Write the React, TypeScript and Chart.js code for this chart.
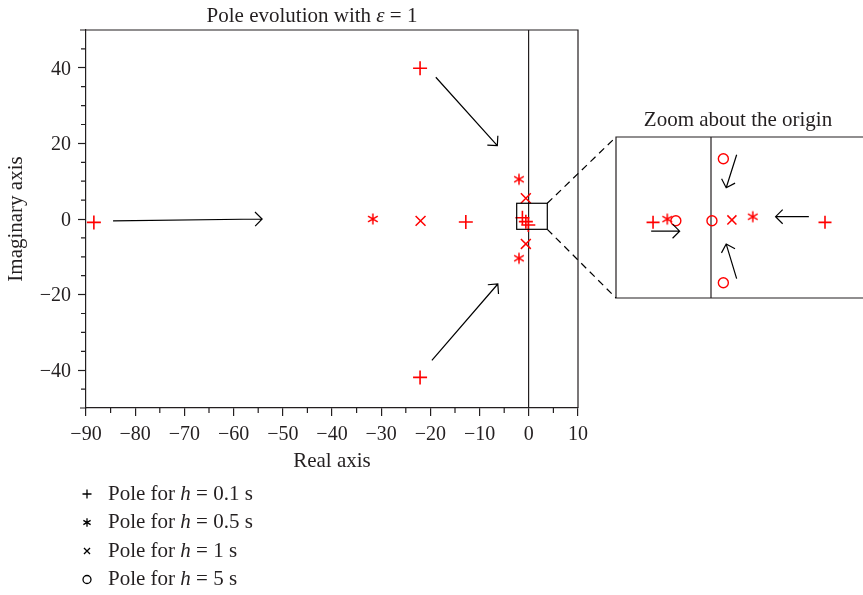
import React, { useEffect, useRef } from 'react';
import { Chart, registerables } from 'chart.js';

Chart.register(...registerables);

const FONT = "'Liberation Serif', 'Times New Roman', serif";
const RED = '#ff0000';
const INK = '#231f20';

// ---- main plot data (real, imaginary) ----
const h01X = [-88.4, -12.8, -22.1, -22.1, -1.3, -0.6, -0.1];
const h01Y = [-0.9, -0.8, 39.9, -41.9, 0.35, -0.7, -1.6];
const h05X = [-31.7, -2.0, -2.0];
const h05Y = [0, 10.5, -10.4];
const h1X = [-22.0, -0.6, -0.6];
const h1Y = [-0.5, 5.5, -6.6];

// arrows in main plot (from -> to)
const arrowFromX = [-84.5, -18.9, -19.7];
const arrowFromY = [-0.5, 37.5, -37.4];
const arrowToX = [-54.2, -6.4, -6.3];
const arrowToY = [0.0, 19.4, -17.2];

// zoom box around origin
const zoomBoxX = [-2.46, 3.76];
const zoomBoxY = [-2.73, 4.16];

// ticks
const xTicks = [-90, -80, -70, -60, -50, -40, -30, -20, -10, 0, 10];
const yTicks = [-40, -20, 0, 20, 40];
const xMinor = [-85, -75, -65, -55, -45, -35, -25, -15, -5, 5];
const yMinor = [-50, -45, -35, -30, -25, -15, -10, -5, 5, 10, 15, 25, 30, 35, 45, 50];

// ---- inset (zoom about the origin) data ----
const inH01X = [-0.61, 1.2];
const inH01Y = [-0.06, -0.06];
const inH05X = [-0.46, 0.44];
const inH05Y = [-0.02, 0.01];
const inH1X = [0.22];
const inH1Y = [-0.03];
const inH5X = [-0.37, 0.01, 0.13, 0.13];
const inH5Y = [-0.04, -0.04, 0.73, -0.81];

const inArrowFromX = [0.27, 0.27, 1.03, -0.63];
const inArrowFromY = [0.78, -0.76, 0.01, -0.17];
const inArrowToX = [0.16, 0.16, 0.68, -0.33];
const inArrowToY = [0.37, -0.33, 0.01, -0.17];

// legend
const legendH = ['0.1', '0.5', '1', '5'];
const legendStyles = ['cross', 'star', 'crossRot', 'circle'];

function fmt(v: number) {
  return v < 0 ? '\u2212' + Math.abs(v) : String(v);
}

function pts(xs: number[], ys: number[]) {
  return xs.map((x, i) => ({ x, y: ys[i] }));
}

function makeAsterisk(r: number, color: string, lw: number) {
  const s = Math.ceil(2 * r + 4);
  const c = document.createElement('canvas');
  c.width = s;
  c.height = s;
  const g = c.getContext('2d')!;
  g.strokeStyle = color;
  g.lineWidth = lw;
  const cx = s / 2, cy = s / 2;
  g.beginPath();
  [90, 30, 150].forEach((deg) => {
    const a = (deg * Math.PI) / 180;
    g.moveTo(cx - r * Math.cos(a), cy - r * Math.sin(a));
    g.lineTo(cx + r * Math.cos(a), cy + r * Math.sin(a));
  });
  g.stroke();
  return c;
}

function drawArrow(ctx: CanvasRenderingContext2D, x1: number, y1: number, x2: number, y2: number, head = 10) {
  const a = Math.atan2(y2 - y1, x2 - x1);
  ctx.beginPath();
  ctx.moveTo(x1, y1);
  ctx.lineTo(x2, y2);
  ctx.moveTo(x2 - head * Math.cos(a - Math.PI / 4), y2 - head * Math.sin(a - Math.PI / 4));
  ctx.lineTo(x2, y2);
  ctx.lineTo(x2 - head * Math.cos(a + Math.PI / 4), y2 - head * Math.sin(a + Math.PI / 4));
  ctx.stroke();
}

function drawRich(ctx: CanvasRenderingContext2D, parts: [string, boolean][], x: number, y: number, size: number, align: 'left' | 'center') {
  const fonts = parts.map(([, it]) => `${it ? 'italic ' : ''}${size}px ${FONT}`);
  const widths = parts.map(([t], i) => {
    ctx.font = fonts[i];
    return ctx.measureText(t).width;
  });
  const total = widths.reduce((a, b) => a + b, 0);
  let cx = align === 'center' ? x - total / 2 : x;
  ctx.textBaseline = 'middle';
  ctx.textAlign = 'left';
  ctx.fillStyle = INK;
  parts.forEach(([t], i) => {
    ctx.font = fonts[i];
    ctx.fillText(t, cx, y);
    cx += widths[i];
  });
}

function drawMarker(ctx: CanvasRenderingContext2D, style: string, x: number, y: number, r: number) {
  ctx.beginPath();
  if (style === 'cross') {
    ctx.moveTo(x - r, y); ctx.lineTo(x + r, y);
    ctx.moveTo(x, y - r); ctx.lineTo(x, y + r);
  } else if (style === 'crossRot') {
    const d = r * 0.72;
    ctx.moveTo(x - d, y - d); ctx.lineTo(x + d, y + d);
    ctx.moveTo(x + d, y - d); ctx.lineTo(x - d, y + d);
  } else if (style === 'star') {
    [90, 30, 150].forEach((deg) => {
      const a = (deg * Math.PI) / 180;
      ctx.moveTo(x - r * Math.cos(a), y - r * Math.sin(a));
      ctx.lineTo(x + r * Math.cos(a), y + r * Math.sin(a));
    });
  } else {
    ctx.arc(x, y, r, 0, Math.PI * 2);
  }
  ctx.stroke();
}

const mainDecor = {
  id: 'mainDecor',
  beforeDatasetsDraw(chart: any) {
    const { ctx, chartArea: a, scales } = chart;
    const x = scales.x, y = scales.y;
    ctx.save();
    ctx.strokeStyle = INK;
    ctx.lineWidth = 1.2;
    ctx.beginPath();
    ctx.moveTo(a.left, a.top);
    ctx.lineTo(a.right, a.top);
    ctx.lineTo(a.right, a.bottom);
    xMinor.forEach((v) => {
      const px = x.getPixelForValue(v);
      ctx.moveTo(px, a.bottom);
      ctx.lineTo(px, a.bottom + 5);
    });
    yMinor.forEach((v) => {
      const py = y.getPixelForValue(v);
      const len = Math.abs(v) === 50 ? 6 : 5;
      ctx.moveTo(a.left - len, py);
      ctx.lineTo(a.left, py);
    });
    ctx.stroke();
    ctx.restore();
  },
  afterDatasetsDraw(chart: any) {
    const { ctx, scales } = chart;
    const x = scales.x, y = scales.y;
    ctx.save();
    ctx.strokeStyle = '#000';
    ctx.lineWidth = 1.2;
    const bx1 = x.getPixelForValue(zoomBoxX[0]);
    const bx2 = x.getPixelForValue(zoomBoxX[1]);
    const by1 = y.getPixelForValue(zoomBoxY[1]);
    const by2 = y.getPixelForValue(zoomBoxY[0]);
    ctx.strokeRect(bx1, by1, bx2 - bx1, by2 - by1);
    arrowFromX.forEach((_, i) => {
      drawArrow(
        ctx,
        x.getPixelForValue(arrowFromX[i]), y.getPixelForValue(arrowFromY[i]),
        x.getPixelForValue(arrowToX[i]), y.getPixelForValue(arrowToY[i])
      );
    });
    ctx.restore();
  },
  afterDraw(chart: any) {
    const { ctx, chartArea: a } = chart;
    ctx.save();
    drawRich(ctx, [['Pole evolution with ', false], ['\u03b5', true], [' = 1', false]], (a.left + a.right) / 2 - 20, a.top - 14, 21, 'center');
    legendH.forEach((h, i) => {
      const ly = a.bottom + 86 + i * 28.5;
      ctx.strokeStyle = '#000';
      ctx.lineWidth = 1.3;
      const st = legendStyles[i];
      drawMarker(ctx, st, a.left + 1, ly, st === 'circle' ? 4 : st === 'cross' ? 4.5 : 4.2);
      drawRich(ctx, [['Pole for ', false], ['h', true], [` = ${h} s`, false]], a.left + 22, ly, 21, 'left');
    });
    ctx.restore();
  },
};

function makeInsetDecor(main: any) {
  return {
    id: 'insetDecor',
    beforeDatasetsDraw(chart: any) {
      const { ctx, chartArea: a, scales } = chart;
      const w = chart.width;
      ctx.save();
      ctx.strokeStyle = INK;
      ctx.lineWidth = 1.2;
      ctx.beginPath();
      ctx.moveTo(w + 2, a.top);
      ctx.lineTo(a.left, a.top);
      ctx.lineTo(a.left, a.bottom);
      ctx.lineTo(w + 2, a.bottom);
      const zx = scales.x.getPixelForValue(0);
      ctx.moveTo(zx, a.top);
      ctx.lineTo(zx, a.bottom);
      ctx.stroke();
      ctx.restore();
    },
    afterDatasetsDraw(chart: any) {
      const { ctx, scales } = chart;
      ctx.save();
      ctx.strokeStyle = '#000';
      ctx.lineWidth = 1.2;
      inArrowFromX.forEach((_, i) => {
        drawArrow(
          ctx,
          scales.x.getPixelForValue(inArrowFromX[i]), scales.y.getPixelForValue(inArrowFromY[i]),
          scales.x.getPixelForValue(inArrowToX[i]), scales.y.getPixelForValue(inArrowToY[i])
        );
      });
      ctx.restore();
    },
    afterDraw(chart: any) {
      const { ctx, chartArea: a } = chart;
      ctx.save();
      drawRich(ctx, [['Zoom about the origin', false]], a.left + 122, a.top - 17, 21, 'center');
      const mx = main.scales.x, my = main.scales.y;
      const bx = mx.getPixelForValue(zoomBoxX[1]);
      const byTop = my.getPixelForValue(zoomBoxY[1]);
      const byBot = my.getPixelForValue(zoomBoxY[0]);
      ctx.strokeStyle = '#000';
      ctx.lineWidth = 1.2;
      ctx.setLineDash([7, 5]);
      ctx.beginPath();
      ctx.moveTo(bx, byTop);
      ctx.lineTo(a.left, a.top);
      ctx.moveTo(bx, byBot);
      ctx.lineTo(a.left, a.bottom);
      ctx.stroke();
      ctx.restore();
    },
  };
}

export default function App() {
  const mainRef = useRef<HTMLCanvasElement>(null);
  const insetRef = useRef<HTMLCanvasElement>(null);

  useEffect(() => {
    if (!mainRef.current || !insetRef.current) return;
    const astMain = makeAsterisk(5.6, RED, 1.5);
    const astInset = makeAsterisk(5.6, RED, 1.5);

    const tickFont = { family: FONT, size: 20 };
    const titleFont = { family: FONT, size: 21 };

    const main = new Chart(mainRef.current, {
      type: 'scatter',
      data: {
        datasets: [
          { label: 'h = 0.1 s', data: pts(h01X, h01Y), pointStyle: 'cross', pointRadius: 7, borderColor: RED, backgroundColor: RED, borderWidth: 1.6 },
          { label: 'h = 0.5 s', data: pts(h05X, h05Y), pointStyle: astMain as any, pointRadius: 6, borderColor: RED, backgroundColor: RED, borderWidth: 1.5 },
          { label: 'h = 1 s', data: pts(h1X, h1Y), pointStyle: 'crossRot', pointRadius: 7, borderColor: RED, backgroundColor: RED, borderWidth: 1.5 },
        ],
      },
      options: {
        responsive: false,
        animation: false,
        devicePixelRatio: 1,
        layout: { autoPadding: false, padding: { left: 0, top: 30, right: 285, bottom: 117 } },
        plugins: { legend: { display: false }, tooltip: { enabled: false }, title: { display: false } },
        scales: {
          x: {
            type: 'linear',
            min: -90,
            max: 10,
            afterBuildTicks: (s: any) => { s.ticks = xTicks.map((v) => ({ value: v })); },
            afterFit: (s: any) => { s.height = 70; },
            grid: {
              drawOnChartArea: true,
              color: (c: any) => (c.tick && c.tick.value === 0 ? INK : 'rgba(0,0,0,0)'),
              lineWidth: 1.2,
              tickLength: 8,
              tickColor: INK,
              tickWidth: 1.2,
            },
            border: { display: true, color: INK, width: 1.2 },
            ticks: { color: INK, font: tickFont, padding: 7, maxRotation: 0, autoSkip: false, callback: (v: any) => fmt(Number(v)) },
            title: { display: true, text: 'Real axis', color: INK, font: titleFont, padding: { top: 0, bottom: 4 } },
          },
          y: {
            type: 'linear',
            min: -50,
            max: 50,
            afterBuildTicks: (s: any) => { s.ticks = yTicks.map((v) => ({ value: v })); },
            afterFit: (s: any) => { s.width = 86; },
            grid: { drawOnChartArea: false, tickLength: 8, tickColor: INK, tickWidth: 1.2 },
            border: { display: true, color: INK, width: 1.2 },
            ticks: { color: INK, font: tickFont, padding: 7, labelOffset: 1.5, autoSkip: false, callback: (v: any) => fmt(Number(v)) },
            title: { display: true, text: 'Imaginary axis', color: INK, font: titleFont, padding: { top: 4, bottom: 0 } },
          },
        },
      },
      plugins: [mainDecor],
    });

    const inset = new Chart(insetRef.current, {
      type: 'scatter',
      data: {
        datasets: [
          { label: 'h = 0.1 s', data: pts(inH01X, inH01Y), pointStyle: 'cross', pointRadius: 6.5, borderColor: RED, backgroundColor: RED, borderWidth: 1.6 },
          { label: 'h = 0.5 s', data: pts(inH05X, inH05Y), pointStyle: astInset as any, pointRadius: 6, borderColor: RED, backgroundColor: RED, borderWidth: 1.5 },
          { label: 'h = 1 s', data: pts(inH1X, inH1Y), pointStyle: 'crossRot', pointRadius: 6.4, borderColor: RED, backgroundColor: RED, borderWidth: 1.5 },
          { label: 'h = 5 s', data: pts(inH5X, inH5Y), pointStyle: 'circle', pointRadius: 5, borderColor: RED, backgroundColor: 'rgba(0,0,0,0)', borderWidth: 1.4 },
        ],
      },
      options: {
        responsive: false,
        animation: false,
        devicePixelRatio: 1,
        layout: { autoPadding: false, padding: { left: 616, top: 137, right: 0, bottom: 297 } },
        plugins: { legend: { display: false }, tooltip: { enabled: false }, title: { display: false } },
        scales: {
          x: { type: 'linear', display: false, min: -1, max: 1.6 },
          y: { type: 'linear', display: false, min: -1, max: 1 },
        },
      },
      plugins: [makeInsetDecor(main)],
    });

    return () => {
      inset.destroy();
      main.destroy();
    };
  }, []);

  return (
    <div style={{ position: 'fixed', left: 0, top: 0, width: 863, height: 595, overflow: 'hidden', background: '#fff' }}>
      <canvas ref={mainRef} width={863} height={595} style={{ position: 'absolute', left: 0, top: 0, width: 863, height: 595 }} />
      <canvas ref={insetRef} width={863} height={595} style={{ position: 'absolute', left: 0, top: 0, width: 863, height: 595 }} />
    </div>
  );
}
